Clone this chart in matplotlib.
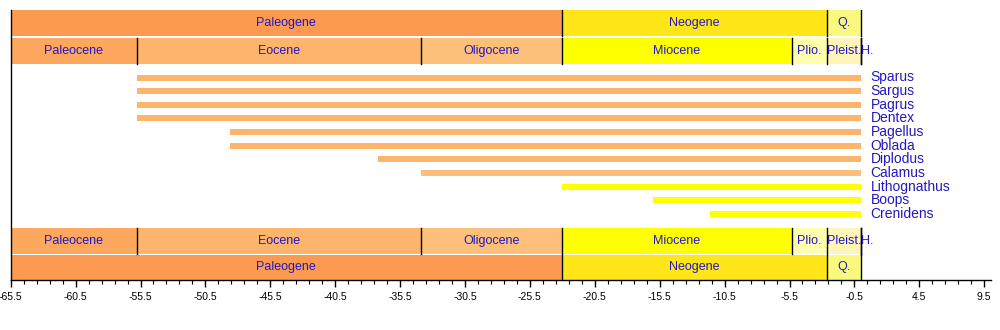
import matplotlib
matplotlib.use("Agg")
import numpy as np
from matplotlib import pyplot as plt

plt.rcParams['font.family'] = ['Liberation Sans', 'DejaVu Sans']

# Periods (Ma, negative = before present)
periods = ["Paleogene", "Neogene", "Q."]
period_start = [-65.5, -23.03, -2.588]
period_end = [-23.03, -2.588, 0.0]
period_colors = ["#FD9A52", "#FFE619", "#F9F97F"]

# Epochs
epochs = ["Paleocene", "Eocene", "Oligocene", "Miocene", "Plio.", "Pleist.", "H."]
epoch_start = [-65.5, -55.8, -33.9, -23.03, -5.332, -2.588, -0.0117]
epoch_end = [-55.8, -33.9, -23.03, -5.332, -2.588, -0.0117, 0.0]
epoch_colors = ["#FDA75F", "#FDB46C", "#FDC07A", "#FFFF00", "#FFFFB0", "#FFF5B8", "#FEF2E0"]

# Genera and their ranges
taxa = ["Sparus", "Sargus", "Pagrus", "Dentex", "Pagellus", "Oblada",
        "Diplodus", "Calamus", "Lithognathus", "Boops", "Crenidens"]
taxa_start = [-55.8, -55.8, -55.8, -55.8, -48.6, -48.6, -37.2, -33.9, -23.03, -16.0, -11.6]
taxa_end = [0.0, 0.0, 0.0, 0.0, 0.0, 0.0, 0.0, 0.0, 0.0, 0.0, 0.0]

text_color = "#2318c0"

fig = plt.figure(figsize=(10, 3.3), dpi=100)
ax = fig.add_axes([10.7 / 1000, 50 / 330, 980 / 1000, 270 / 330])
ax.set_xlim(-65.5, 10.0)
ax.set_ylim(280, 10)


def draw_row(names, starts, ends, colors, top, bottom):
    """Draw one row of time intervals"""
    for name, s, e, c in zip(names, starts, ends, colors):
        ax.fill_between([s, e], top, bottom, color=c, lw=0)
        ax.plot([e, e], [top, bottom], color="black", lw=1)
        if e - s < 1:
            ax.text(s, (top + bottom) / 2, name, ha="left", va="center",
                    color=text_color, fontsize=9)
        else:
            ax.text((s + e) / 2, (top + bottom) / 2, name, ha="center", va="center",
                    color=text_color, fontsize=9)


# Top rows
draw_row(periods, period_start, period_end, period_colors, 10, 36)
draw_row(epochs, epoch_start, epoch_end, epoch_colors, 38, 63.5)

# Bottom rows
draw_row(epochs, epoch_start, epoch_end, epoch_colors, 228, 253.5)
draw_row(periods, period_start, period_end, period_colors, 254.5, 280)

# Taxon ranges, coloured by epoch of first appearance
for i, (name, s, e) in enumerate(zip(taxa, taxa_start, taxa_end)):
    y = 77.5 + 13.65 * i
    idx = max(j for j, es in enumerate(epoch_start) if es <= s + 1e-6)
    col = epoch_colors[idx]
    if col == "#FDA75F":
        col = "#FDB46C"
    ax.barh(y, e - s, left=s, height=6, color=col, lw=0)
    ax.text(e + 0.75, y, name, ha="left", va="center", color=text_color, fontsize=10)

# Axes styling
ax.spines["top"].set_visible(False)
ax.spines["right"].set_visible(False)
ax.spines["left"].set_linewidth(1)
ax.spines["bottom"].set_linewidth(1)
ax.set_yticks([])
major = np.arange(-65.5, 10.0, 5)
ax.set_xticks(major)
ax.set_xticklabels([f"{t:g}" for t in major])
ax.set_xticks(np.arange(-65.5, 10.0, 1), minor=True)
ax.tick_params(axis="x", which="major", length=5, width=1, labelsize=7.5, pad=4)
ax.tick_params(axis="x", which="minor", length=3, width=0.8)

fig.savefig("out.png", dpi=100)
